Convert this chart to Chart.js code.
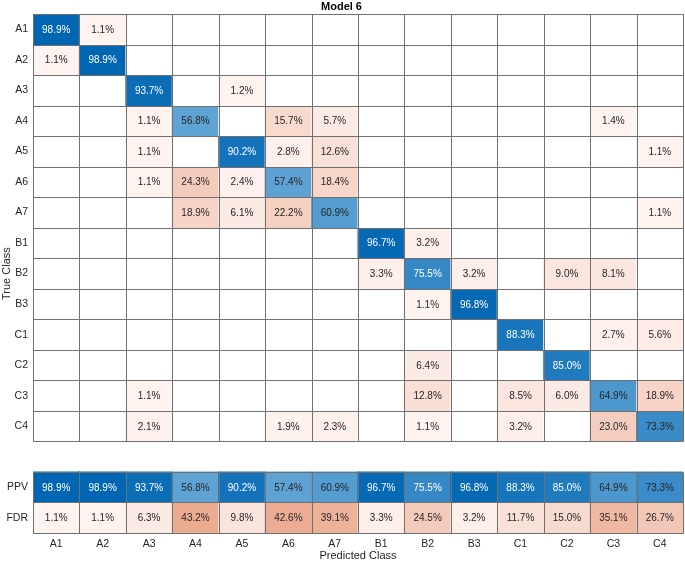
<!DOCTYPE html>
<html>
<head>
<meta charset="utf-8">
<script src="https://cdn.jsdelivr.net/npm/chart.js@4.4.0/dist/chart.umd.min.js"></script>
<style>
  html, body { margin: 0; padding: 0; background: #fff; }
  #wrap { width: 685px; height: 563px; }
</style>
</head>
<body>
<div id="wrap"><canvas id="myChart"></canvas></div>
<script>
const n = null;
const classes = ['A1', 'A2', 'A3', 'A4', 'A5', 'A6', 'A7', 'B1', 'B2', 'B3', 'C1', 'C2', 'C3', 'C4'];

// percentages per true class (row), one entry per predicted class (column)
const trueA1 = [98.9, 1.1, n, n, n, n, n, n, n, n, n, n, n, n];
const trueA2 = [1.1, 98.9, n, n, n, n, n, n, n, n, n, n, n, n];
const trueA3 = [n, n, 93.7, n, 1.2, n, n, n, n, n, n, n, n, n];
const trueA4 = [n, n, 1.1, 56.8, n, 15.7, 5.7, n, n, n, n, n, 1.4, n];
const trueA5 = [n, n, 1.1, n, 90.2, 2.8, 12.6, n, n, n, n, n, n, 1.1];
const trueA6 = [n, n, 1.1, 24.3, 2.4, 57.4, 18.4, n, n, n, n, n, n, n];
const trueA7 = [n, n, n, 18.9, 6.1, 22.2, 60.9, n, n, n, n, n, n, 1.1];
const trueB1 = [n, n, n, n, n, n, n, 96.7, 3.2, n, n, n, n, n];
const trueB2 = [n, n, n, n, n, n, n, 3.3, 75.5, 3.2, n, 9.0, 8.1, n];
const trueB3 = [n, n, n, n, n, n, n, n, 1.1, 96.8, n, n, n, n];
const trueC1 = [n, n, n, n, n, n, n, n, n, n, 88.3, n, 2.7, 5.6];
const trueC2 = [n, n, n, n, n, n, n, n, 6.4, n, n, 85.0, n, n];
const trueC3 = [n, n, 1.1, n, n, n, n, n, 12.8, n, 8.5, 6.0, 64.9, 18.9];
const trueC4 = [n, n, 2.1, n, n, 1.9, 2.3, n, 1.1, n, 3.2, n, 23.0, 73.3];

const ppv = [98.9, 98.9, 93.7, 56.8, 90.2, 57.4, 60.9, 96.7, 75.5, 96.8, 88.3, 85.0, 64.9, 73.3];
const fdr = [1.1, 1.1, 6.3, 43.2, 9.8, 42.6, 39.1, 3.3, 24.5, 3.2, 11.7, 15.0, 35.1, 26.7];

const yLabels = classes.concat(['', 'PPV', 'FDR']);

const matrix = [trueA1, trueA2, trueA3, trueA4, trueA5, trueA6, trueA7,
                trueB1, trueB2, trueB3, trueC1, trueC2, trueC3, trueC4];

function clamp(v) { return Math.max(0, Math.min(255, Math.round(v))); }
function blue(v) {
  const t = v / 100;
  return `rgb(${clamp(255 - (34 + 223 * t))},${clamp(255 - (10 + 145 * t))},${clamp(255 - 77 * t)})`;
}
function red(v) {
  const t = v / 100;
  return `rgb(${clamp(255 - 44 * t)},${clamp(255 - (10 + 173 * t))},${clamp(255 - (13 + 225 * t))})`;
}

function makeRow(rowIndex, values, isBlue) {
  return {
    values: values,
    isBlue: isBlue,
    data: values.map(() => [rowIndex, rowIndex + 1]),
    backgroundColor: values.map((v, k) => v === null ? '#ffffff' : (isBlue[k] ? blue(v) : red(v))),
    borderWidth: 0,
    grouped: false,
    inflateAmount: 0.5,
    barPercentage: 1,
    categoryPercentage: 1
  };
}

const datasets = matrix.map((row, i) => makeRow(i, row, row.map((v, k) => k === i)));
datasets.push(makeRow(15, ppv, ppv.map(() => true)));
datasets.push(makeRow(16, fdr, fdr.map(() => false)));

// cell borders, placed from the scales
const cellGrid = {
  id: 'cellGrid',
  afterDatasetsDraw(chart) {
    const ctx = chart.ctx;
    const xs = chart.scales.x, ys = chart.scales.y;
    const half = (xs.getPixelForValue(1) - xs.getPixelForValue(0)) / 2;
    const colEdges = [];
    for (let k = 0; k <= classes.length; k++) colEdges.push(Math.round(xs.getPixelForValue(k) - half) + 0.5);
    const blocks = [[0, 14], [15, 17]];
    ctx.save();
    ctx.strokeStyle = '#707070';
    ctx.lineWidth = 1;
    ctx.beginPath();
    blocks.forEach(([r0, r1]) => {
      const top = Math.round(ys.getPixelForValue(r0)) + 0.5;
      const bot = Math.round(ys.getPixelForValue(r1)) + 0.5;
      for (let r = r0; r <= r1; r++) {
        const y = Math.round(ys.getPixelForValue(r)) + 0.5;
        ctx.moveTo(colEdges[0], y);
        ctx.lineTo(colEdges[colEdges.length - 1], y);
      }
      colEdges.forEach(x => { ctx.moveTo(x, top); ctx.lineTo(x, bot); });
    });
    ctx.stroke();
    ctx.restore();
  }
};

const cellText = {
  id: 'cellText',
  afterDatasetsDraw(chart) {
    const ctx = chart.ctx;
    ctx.save();
    ctx.font = '10.5px "Liberation Sans", Arial, sans-serif';
    ctx.textAlign = 'center';
    ctx.textBaseline = 'middle';
    chart.data.datasets.forEach((ds, di) => {
      chart.getDatasetMeta(di).data.forEach((bar, k) => {
        const v = ds.values[k];
        if (v === null) return;
        const p = bar.getProps(['x', 'y', 'base'], true);
        ctx.fillStyle = (ds.isBlue[k] && v >= 74) ? '#ffffff' : '#262626';
        ctx.save();
        ctx.translate(p.x, (p.y + p.base) / 2);
        ctx.scale(0.95, 1);
        ctx.fillText(v.toFixed(1) + '%', 0, 0.5);
        ctx.restore();
      });
    });
    ctx.restore();
  }
};

const font = '"Liberation Sans", Arial, sans-serif';

new Chart(document.getElementById('myChart'), {
  type: 'bar',
  data: { labels: classes, datasets: datasets },
  options: {
    responsive: true,
    maintainAspectRatio: false,
    animation: false,
    events: [],
    layout: { padding: { top: 0, right: 2, bottom: 0, left: 0 } },
    plugins: {
      legend: { display: false },
      tooltip: { enabled: false },
      title: {
        display: true,
        text: 'Model 6',
        color: '#000',
        font: { family: font, size: 11, weight: 'bold' },
        padding: { top: 0, bottom: 1 }
      }
    },
    scales: {
      x: {
        type: 'category',
        offset: true,
        grid: { display: false, drawTicks: false },
        border: { display: false },
        ticks: { color: '#262626', font: { family: font, size: 10.5 }, padding: 5, maxRotation: 0 },
        title: {
          display: true, text: 'Predicted Class', color: '#262626',
          font: { family: font, size: 11 }, padding: { top: 0, bottom: 0 }
        },
        afterFit: s => { s.height = 30; }
      },
      y: {
        type: 'linear',
        min: 0,
        max: 17,
        reverse: true,
        grid: { display: false, drawTicks: false },
        border: { display: false },
        afterBuildTicks: s => { s.ticks = yLabels.map((l, i) => ({ value: i + 0.5 })); },
        ticks: {
          autoSkip: false,
          color: '#262626',
          font: { family: font, size: 10.5 },
          padding: 5,
          callback: (v, i) => yLabels[i]
        },
        title: {
          display: true, text: 'True Class', color: '#262626',
          font: { family: font, size: 11 }, padding: { top: 0, bottom: 0 }
        },
        afterFit: s => { s.width = 33; }
      }
    }
  },
  plugins: [cellGrid, cellText]
});
</script>
</body>
</html>
